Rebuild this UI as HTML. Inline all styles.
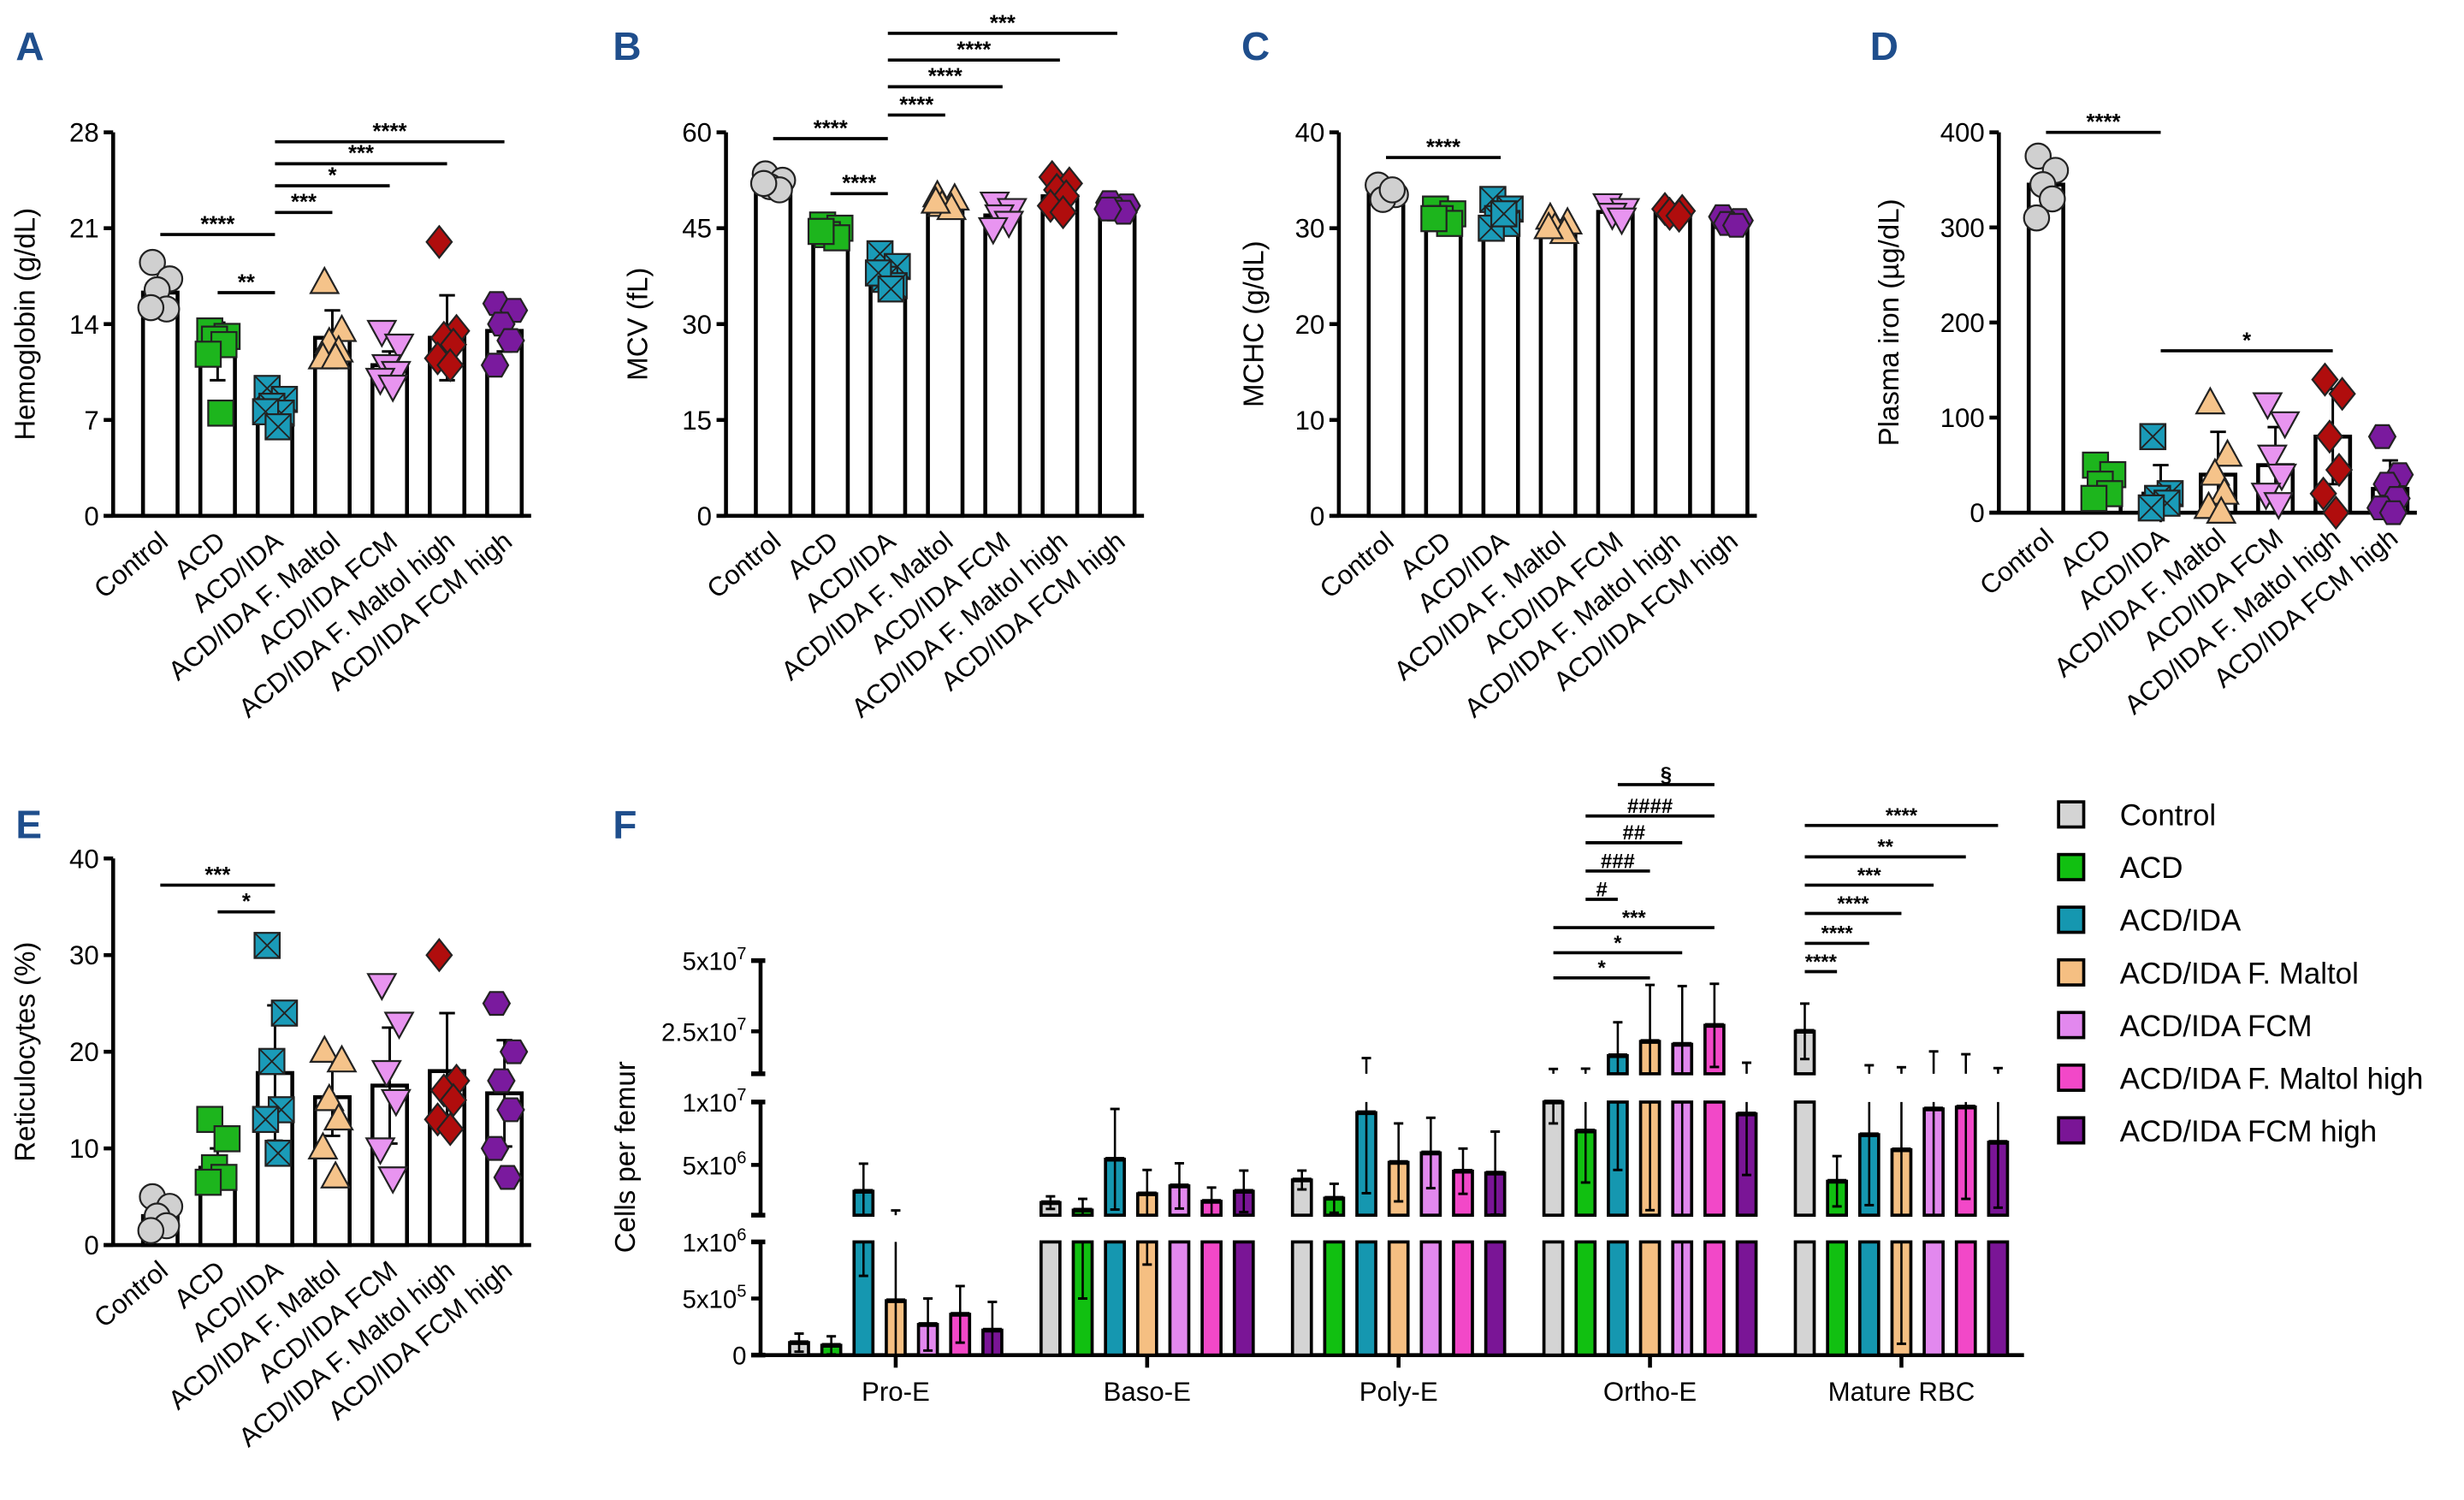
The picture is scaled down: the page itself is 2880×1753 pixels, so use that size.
<!DOCTYPE html>
<html><head><meta charset="utf-8"><style>
html,body{margin:0;padding:0;background:#fff;}
svg{display:block;font-family:"Liberation Sans",sans-serif;}
</style></head><body>
<svg id="fig" width="2880" height="1753" viewBox="0 0 1568 954" xmlns="http://www.w3.org/2000/svg"></svg>
<script>
const groups = ["Control","ACD","ACD/IDA","ACD/IDA F. Maltol","ACD/IDA FCM","ACD/IDA F. Maltol high","ACD/IDA FCM high"];
const markerColors = ["#d0d0d0","#1db51d","#1a9bb8","#f5c38a","#e894f0","#b00d0d","#7a1a9e"];
const barColors = ["#d4d4d4","#11c011","#1597b0","#f5bf82","#e288ee","#f248c8","#7a1596"];

const hbMeans = [16.3,12.0,8.0,13.0,11.0,13.0,13.5];
const hbSD = [0.9,2.1,0.8,2.0,1.0,3.1,1.5];
const hbPoints = [[18.5,17.3,16.5,15.1,15.2],[13.5,13.1,12.9,12.5,11.8,7.5],[9.3,8.5,8.0,7.5,7.6,6.5],[17.0,13.5,12.6,12.0,11.5,11.5],[13.5,12.5,11.0,10.5,10.0,9.5],[20.0,13.5,13.0,12.5,11.5,11.0],[15.5,15.0,14.0,12.8,11.0]];
const mcvMeans = [52,44.5,37.5,48.5,47,50,48];
const mcvSD = [1,1,2,1,1.5,2,0.8];
const mcvPoints = [[53.5,52.5,51.5,51,52],[45.5,45,44,43.5,44.5],[41,39,37,36,38,35.5],[50,49.5,48.5,48,49],[49,48,47,46,45],[53,52,51,50,48.5,47.5],[49,48.5,48,47.5,48]];
const mchcMeans = [33.5,31,31,30.2,31.7,31.5,30.8];
const mchcSD = [0.6,0.6,1,0.6,0.6,0.3,0.4];
const mchcPoints = [[34.5,33.5,33,34],[32,31.5,31,30.5,31],[33,32,31,30.5,30,31.5],[31,30.5,30,29.5,30],[32.5,32,31.5,31],[32,31.8,31.5,31.3],[31.2,30.8,30.5,30.3]];
const ironMeans = [345,25,20,40,50,80,25];
const ironSD = [25,15,30,45,40,50,30];
const ironPoints = [[375,360,345,330,310],[50,40,30,20,15],[80,20,15,10,5],[115,60,40,20,5,0],[115,95,60,40,20,10],[140,125,80,45,20,0],[80,40,30,15,5,0]];
const retMeans = [3,8,17.8,15.3,16.5,18,15.7];
const retSD = [1.5,2,7,4,6,6,5.5];
const retPoints = [[5,4,3,2,1.5],[13,11,8,7,6.5],[31,24,19,14,13,9.5],[20,19,15,13,10,7],[27,23,18,15,10,7],[30,17,16,15,13,12],[25,20,17,14,10,7]];

const fCategories = ["Pro-E","Baso-E","Poly-E","Ortho-E","Mature RBC"];
const fMeans = [
 [1.1e5,0.86e5,2.9e6,4.8e5,2.7e5,3.6e5,2.2e5],
 [2.0e6,1.4e6,5.45e6,2.7e6,3.33e6,2.1e6,2.9e6],
 [3.8e6,2.35e6,9.15e6,5.2e6,5.95e6,4.5e6,4.35e6],
 [1.0e7,7.7e6,1.64e7,2.14e7,2.04e7,2.71e7,9.05e6],
 [2.5e7,3.7e6,7.4e6,6.2e6,9.45e6,9.6e6,6.8e6]];
const fSD = [
 [0.8e5,0.8e5,2.2e6,0.9e6,2.3e5,2.5e5,2.5e5],
 [0.5e6,0.9e6,4.0e6,1.9e6,1.8e6,1.1e6,1.65e6],
 [0.75e6,1.15e6,6.4e6,3.1e6,2.8e6,1.8e6,3.3e6],
 [1.7e6,4.1e6,1.18e7,2.0e7,2.06e7,1.47e7,4.85e6],
 [0.98e7,2.0e6,5.6e6,6.1e6,8.45e6,7.3e6,5.2e6]];
const fTickLabels = [["0",0],["5x10","5",5e5],["1x10","6",1e6],["5x10","6",5e6],["1x10","7",1e7],["2.5x10","7",2.5e7],["5x10","7",5e7]];

const NS="http://www.w3.org/2000/svg";
const svg=document.getElementById('fig');
function mk(tag,attrs,parent){const e=document.createElementNS(NS,tag);for(const k in attrs)e.setAttribute(k,attrs[k]);(parent||svg).appendChild(e);return e;}
function txt(s,attrs,parent){const e=mk('text',attrs,parent);e.textContent=s;return e;}

function marker(g,idx,cx,cy,r){
  const c=markerColors[idx];const st={fill:c,stroke:'#222','stroke-width':1.2};
  let e;
  if(idx===0){e=mk('circle',Object.assign({cx,cy,r},st),g);}
  else if(idx===1){e=mk('rect',Object.assign({x:cx-r,y:cy-r,width:2*r,height:2*r},st),g);}
  else if(idx===2){e=mk('rect',Object.assign({x:cx-r,y:cy-r,width:2*r,height:2*r},st),g);
    mk('path',{d:`M${cx-r} ${cy-r}L${cx+r} ${cy+r}M${cx+r} ${cy-r}L${cx-r} ${cy+r}`,stroke:'#222','stroke-width':1},g);}
  else if(idx===3){e=mk('polygon',Object.assign({points:`${cx},${cy-r*1.2} ${cx+r*1.1},${cy+r*0.8} ${cx-r*1.1},${cy+r*0.8}`},st),g);}
  else if(idx===4){e=mk('polygon',Object.assign({points:`${cx},${cy+r*1.2} ${cx+r*1.1},${cy-r*0.8} ${cx-r*1.1},${cy-r*0.8}`},st),g);}
  else if(idx===5){e=mk('polygon',Object.assign({points:`${cx},${cy-r*1.25} ${cx+r},${cy} ${cx},${cy+r*1.25} ${cx-r},${cy}`},st),g);}
  else {let p=[];for(let k=0;k<6;k++){const a=Math.PI/3*k;p.push((cx+r*1.05*Math.cos(a))+','+(cy+r*1.05*Math.sin(a)));}
    e=mk('polygon',Object.assign({points:p.join(' ')},st),g);}
  return e;
}

function dotPanel(cfg){
  const g=mk('g',{});
  
  
  const y=v=>cfg.y0-(v-0)/cfg.max*(cfg.y0-cfg.y1);
  const xc=i=>cfg.x0+30+i*36.5;
  const ax=mk('line',{x1:cfg.x0,y1:cfg.y0,x2:cfg.x0,y2:cfg.y1,stroke:'#000','stroke-width':2.5},g);
  
  const xa=mk('line',{x1:cfg.x0-6,y1:cfg.y0,x2:cfg.x0+266,y2:cfg.y0,stroke:'#000','stroke-width':2.5},g);
  
  cfg.ticks.forEach(t=>{
    mk('line',{x1:cfg.x0-6,y1:y(t),x2:cfg.x0,y2:y(t),stroke:'#000','stroke-width':2.5},g);
    const tl=txt(String(t),{x:cfg.x0-9,y:y(t)+6,'text-anchor':'end','font-size':17},g);
    
  });
  const tt=txt(cfg.title,{x:0,y:0,'text-anchor':'middle','font-size':18,transform:`translate(${cfg.tx},${(cfg.y0+cfg.y1)/2}) rotate(-90)`},g);
  
  cfg.means.forEach((m,i)=>{
    const b=mk('rect',{x:xc(i)-11,y:y(m),width:22,height:cfg.y0-y(m),fill:'#fff',stroke:'#000','stroke-width':2.5},g);
    
    
    const sd=cfg.sd[i];
    mk('path',{d:`M${xc(i)} ${y(m-sd)}V${y(m+sd)}M${xc(i)-5} ${y(m+sd)}H${xc(i)+5}M${xc(i)-5} ${y(Math.max(m-sd,0))}H${xc(i)+5}`,stroke:'#000','stroke-width':1.6,fill:'none'},g);
    const off=[-5,6,-2,4,-6,2];
    cfg.points[i].forEach((v,k)=>{
      const p=marker(g,i,xc(i)+off[k%6],y(v),8);
      
      
    });
    const lab=txt(groups[i],{x:0,y:0,'text-anchor':'end','font-size':17,transform:`translate(${xc(i)+6},${cfg.y0+18}) rotate(-40)`},g);
    
  });
  cfg.sig.forEach(s=>{
    const l=mk('line',{x1:xc(s[0]),x2:xc(s[1]),y1:s[2],y2:s[2],stroke:'#000','stroke-width':2},g);
    
    txt(s[3],{x:(xc(s[0])+xc(s[1]))/2,y:s[2]-2,'text-anchor':'middle','font-size':14,'font-weight':'bold'},g);
  });
}

function letter(s,x,y){const e=txt(s,{x,y,'font-size':25,'font-weight':'bold',fill:'#1f4e8c'});
  }
letter('A',10,38);letter('B',390,38);letter('C',790,38);letter('D',1190,38);letter('E',10,533);letter('F',390,533);

dotPanel({name:'panel-a-hemoglobin',x0:72,y0:328,y1:84,max:28,ticks:[0,7,14,21,28],title:'Hemoglobin (g/dL)',tx:22,means:hbMeans,sd:hbSD,points:hbPoints,
 sig:[[0,2,149,'****'],[1,2,186,'**'],[2,3,135,'***'],[2,4,118,'*'],[2,5,104,'***'],[2,6,90,'****']]});
dotPanel({name:'panel-b-mcv',x0:462,y0:328,y1:84,max:60,ticks:[0,15,30,45,60],title:'MCV (fL)',tx:412,means:mcvMeans,sd:mcvSD,points:mcvPoints,
 sig:[[0,2,88,'****'],[1,2,123,'****'],[2,3,73,'****'],[2,4,55,'****'],[2,5,38,'****'],[2,6,21,'***']]});
dotPanel({name:'panel-c-mchc',x0:852,y0:328,y1:84,max:40,ticks:[0,10,20,30,40],title:'MCHC (g/dL)',tx:804,means:mchcMeans,sd:mchcSD,points:mchcPoints,
 sig:[[0,2,100,'****']]});
dotPanel({name:'panel-d-plasma-iron',x0:1272,y0:326,y1:84,max:400,ticks:[0,100,200,300,400],title:'Plasma iron (µg/dL)',tx:1208,means:ironMeans,sd:ironSD,points:ironPoints,
 sig:[[0,2,84,'****'],[2,5,223,'*']]});
dotPanel({name:'panel-e-reticulocytes',x0:72,y0:792,y1:546,max:40,ticks:[0,10,20,30,40],title:'Reticulocytes (%)',tx:22,means:retMeans,sd:retSD,points:retPoints,
 sig:[[0,2,563,'***'],[1,2,580,'*']]});

(function(){
  const g=mk('g',{});
  
  
  const segs=[{lo:0,hi:1e6,y0:862,y1:790},{lo:1e6,hi:1e7,y0:773,y1:701},{lo:1e7,hi:5e7,y0:683,y1:611}];
  const AX=484;
  function segY(s,v){return s.y0-(v-s.lo)/(s.hi-s.lo)*(s.y0-s.y1);}
  function yOf(v){for(const s of segs){if(v<=s.hi)return segY(s,v);}return segs[2].y1;}
  const gc=i=>570+i*160;
  const bx=(c,j)=>gc(c)+(j-3)*20.5;
  segs.forEach(s=>{
    const l=mk('line',{x1:AX,x2:AX,y1:s.y0,y2:s.y1,stroke:'#000','stroke-width':2.5},g);
    
    mk('line',{x1:AX-6,x2:AX+3,y1:s.y1,y2:s.y1,stroke:'#000','stroke-width':3},g);
    mk('line',{x1:AX-6,x2:AX+3,y1:s.y0,y2:s.y0,stroke:'#000','stroke-width':3},g);
  });
  fTickLabels.forEach(t=>{
    const v=t[t.length-1];
    let yy=(v===1e7)?segs[1].y1:yOf(v);
    mk('line',{x1:AX-6,x2:AX,y1:yy,y2:yy,stroke:'#000','stroke-width':2.5},g);
    const e=txt('',{x:AX-9,y:yy+6,'text-anchor':'end','font-size':16},g);
    
    if(t.length===2){e.textContent=t[0];}
    else{const a=mk('tspan',{},e);a.textContent=t[0];const b=mk('tspan',{dy:-7,'font-size':11},e);b.textContent=t[1];}
  });
  const tt=txt('Cells per femur',{x:0,y:0,'text-anchor':'middle','font-size':18,transform:`translate(404,736) rotate(-90)`},g);
  
  const xa=mk('line',{x1:AX,x2:1288,y1:862,y2:862,stroke:'#000','stroke-width':2.5},g);
  
  fCategories.forEach((c,ci)=>{
    mk('line',{x1:gc(ci),x2:gc(ci),y1:862,y2:870,stroke:'#000','stroke-width':2.5},g);
    const l=txt(c,{x:gc(ci),y:891,'text-anchor':'middle','font-size':17},g);
    
    fMeans[ci].forEach((v,j)=>{
      const x=bx(ci,j),w=12;
      const bg=mk('g',{},g);
      
      
      segs.forEach(s=>{
        if(v<=s.lo)return;
        const top=Math.min(v,s.hi);
        const yt=segY(s,top),yb=s.y0;
        mk('rect',{x:x-w/2,y:yt,width:w,height:yb-yt,fill:barColors[j],stroke:'#000','stroke-width':2},bg);
        if(v<=s.hi) mk('line',{x1:x-w/2,x2:x+w/2,y1:yt,y2:yt,stroke:'#000','stroke-width':3},bg);
      });
      const sd=fSD[ci][j];const hi=v+sd,lo=Math.max(v-sd,0);
      segs.forEach(s=>{
        const a=Math.max(lo,s.lo),b=Math.min(hi,s.hi);
        if(b<=a)return;
        mk('line',{x1:x,x2:x,y1:segY(s,a),y2:segY(s,b),stroke:'#000','stroke-width':1.4},bg);
        if(hi<=s.hi&&hi>=s.lo) mk('line',{x1:x-3,x2:x+3,y1:segY(s,hi),y2:segY(s,hi),stroke:'#000','stroke-width':1.6},bg);
        if(lo>=s.lo&&lo<=s.hi&&lo>0) mk('line',{x1:x-3,x2:x+3,y1:segY(s,lo),y2:segY(s,lo),stroke:'#000','stroke-width':1.6},bg);
      });
    });
  });
  // [category, from-bar, to-bar, y, label]
  const sig=[[3,2,5,499,'§'],[3,1,5,519,'####'],[3,1,4,536,'##'],[3,1,3,554,'###'],[3,1,2,572,'#'],[3,0,5,590,'***'],[3,0,4,606,'*'],[3,0,3,622,'*'],
    [4,0,6,525,'****'],[4,0,5,545,'**'],[4,0,4,563,'***'],[4,0,3,581,'****'],[4,0,2,600,'****'],[4,0,1,618,'****']];
  sig.forEach(s=>{
    const x1=bx(s[0],s[1]),x2=bx(s[0],s[2]);
    const l=mk('line',{x1,x2,y1:s[3],y2:s[3],stroke:'#000','stroke-width':2},g);
    
    txt(s[4],{x:(x1+x2)/2,y:s[3]-2,'text-anchor':'middle','font-size':13,'font-weight':'bold'},g);
  });
  const lg=mk('g',{});
  
  
  groups.forEach((n,i)=>{
    const yy=518+i*33.5;
    const it=mk('g',{},lg);
    
    
    mk('rect',{x:1310,y:yy-8,width:16,height:16,fill:barColors[i],stroke:'#000','stroke-width':2},it);
    txt(n,{x:1349,y:yy+7,'font-size':19},it);
  });
})();
</script>
</body></html>
